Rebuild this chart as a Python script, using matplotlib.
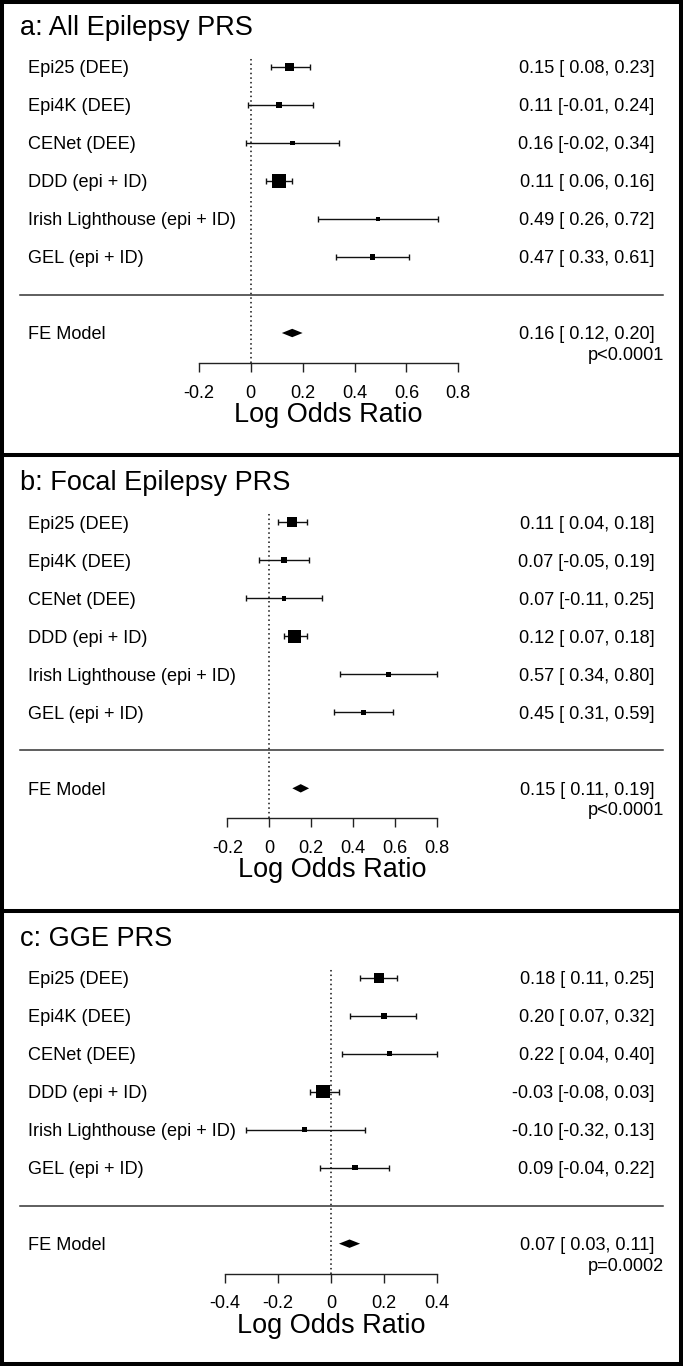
import numpy as np
import matplotlib.pyplot as plt
from matplotlib.lines import Line2D
from matplotlib.patches import Rectangle

plt.rcParams['font.family'] = ['Liberation Sans', 'DejaVu Sans']

# studies (same order in each panel)
studies = ["Epi25 (DEE)", "Epi4K (DEE)", "CENet (DEE)", "DDD (epi + ID)",
           "Irish Lighthouse (epi + ID)", "GEL (epi + ID)"]

titles = ["a: All Epilepsy PRS", "b: Focal Epilepsy PRS", "c: GGE PRS"]

# a: all epilepsy
est_a = [0.15, 0.11, 0.16, 0.11, 0.49, 0.47]
lo_a = [0.08, -0.01, -0.02, 0.06, 0.26, 0.33]
hi_a = [0.23, 0.24, 0.34, 0.16, 0.72, 0.61]
fe_a = [0.16, 0.12, 0.20]
p_a = "p<0.0001"
ticks_a = [-0.2, 0, 0.2, 0.4, 0.6, 0.8]

# b: focal epilepsy
est_b = [0.11, 0.07, 0.07, 0.12, 0.57, 0.45]
lo_b = [0.04, -0.05, -0.11, 0.07, 0.34, 0.31]
hi_b = [0.18, 0.19, 0.25, 0.18, 0.80, 0.59]
fe_b = [0.15, 0.11, 0.19]
p_b = "p<0.0001"
ticks_b = [-0.2, 0, 0.2, 0.4, 0.6, 0.8]

# c: GGE
est_c = [0.18, 0.20, 0.22, -0.03, -0.10, 0.09]
lo_c = [0.11, 0.07, 0.04, -0.08, -0.32, -0.04]
hi_c = [0.25, 0.32, 0.40, 0.03, 0.13, 0.22]
fe_c = [0.07, 0.03, 0.11]
p_c = "p=0.0002"
ticks_c = [-0.4, -0.2, 0, 0.2, 0.4]

W, H = 683, 1366
ROW_PX = 38.0  # pixels between rows
AXIS_Y = -1.79
FS = 13.1


def fx(px):
    return px / W


def draw_panel(ax, title, est, lo, hi, fe, pval, ticks, zero_px, px_per_unit):
    est, lo, hi = np.array(est), np.array(lo), np.array(hi)
    k = len(est)
    rows = np.arange(k, 0, -1)

    ax.set_xlim(-zero_px / px_per_unit, (W - zero_px) / px_per_unit)
    ax.set_ylim(1 - (H / 3 - 257) / ROW_PX, k + 67 / ROW_PX)

    # square size from inverse variance weights (metafor style, plim 0.5-1.5)
    se = (hi - lo) / (2 * 1.96)
    w = 1 / se**2
    psize = 0.5 + (w - w.min()) / (w.max() - w.min())
    side_pt = 9.0 * psize * 72 / 100

    ax.vlines(0, AXIS_Y, k + 0.26, colors='#111111', lw=1.1, linestyles=(0, (1, 2)))
    ax.errorbar(est, rows, xerr=[est - lo, hi - est], fmt='none', ecolor='#111111',
                elinewidth=1.0, capsize=2.0, capthick=1.0)
    ax.scatter(est, rows, marker='s', s=side_pt**2, c='black', linewidths=0, zorder=3)

    ax.axhline(0, xmin=fx(20), xmax=fx(663), color='#333333', lw=1.1)

    h = 4.2 / ROW_PX
    ax.fill([fe[1], fe[0], fe[2], fe[0]], [-1, -1 + h, -1, -1 - h], color='black', lw=0)

    tr = ax.get_yaxis_transform()
    ax.text(fx(19.5), k + (67 - 35) / ROW_PX, title, transform=tr,
            fontsize=19.5, va='baseline')
    for r, name, e, l, u in zip(rows, studies, est, lo, hi):
        ax.text(fx(28.5), r - 0.17, name, transform=tr, fontsize=FS, va='baseline')
        ax.text(fx(654.5), r - 0.17, f"{e:.2f} [{l:5.2f}, {u:.2f}]", transform=tr,
                fontsize=FS, va='baseline', ha='right')
    ax.text(fx(28.5), -1.17, "FE Model", transform=tr, fontsize=FS, va='baseline')
    ax.text(fx(654.5), -1.17, f"{fe[0]:.2f} [{fe[1]:5.2f}, {fe[2]:.2f}]", transform=tr,
            fontsize=FS, va='baseline', ha='right')
    ax.text(fx(664), -1.71, pval, transform=tr, fontsize=FS, va='baseline', ha='right')

    for s in ['top', 'right', 'left']:
        ax.spines[s].set_visible(False)
    ax.spines['bottom'].set_position(('data', AXIS_Y))
    ax.spines['bottom'].set_bounds(ticks[0], ticks[-1])
    ax.spines['bottom'].set_linewidth(1.0)
    ax.spines['bottom'].set_color('#222222')
    ax.set_xticks(ticks)
    ax.set_xticklabels([f"{t:g}" for t in ticks])
    ax.tick_params(axis='x', direction='out', length=6.5, width=1.0, pad=9,
                   labelsize=FS, color='#222222')
    ax.set_yticks([])
    ax.text((ticks[0] + ticks[-1]) / 2, 1 - (422 - 257) / ROW_PX, "Log Odds Ratio",
            ha='center', va='baseline', fontsize=19.5)
    ax.patch.set_alpha(0)


fig = plt.figure(figsize=(W / 100, H / 100), dpi=100)

panels = [
    (est_a, lo_a, hi_a, fe_a, p_a, ticks_a, 250.7, 259.5),
    (est_b, lo_b, hi_b, fe_b, p_b, ticks_b, 269.3, 209.4),
    (est_c, lo_c, hi_c, fe_c, p_c, ticks_c, 331.0, 264.5),
]
for i, (title, p) in enumerate(zip(titles, panels)):
    ax = fig.add_axes([0, 1 - (i + 1) / 3, 1, 1 / 3])
    draw_panel(ax, title, *p)

# frame around panels
fig.add_artist(Rectangle((2 / W, 2 / H), (W - 4) / W, (H - 4) / H,
                         transform=fig.transFigure, fill=False, ec='black', lw=2.9))
for yb in [1 / 3, 2 / 3]:
    fig.add_artist(Line2D([0, 1], [yb, yb], transform=fig.transFigure,
                          color='black', lw=2.9))

fig.savefig('out.png', dpi=100)
